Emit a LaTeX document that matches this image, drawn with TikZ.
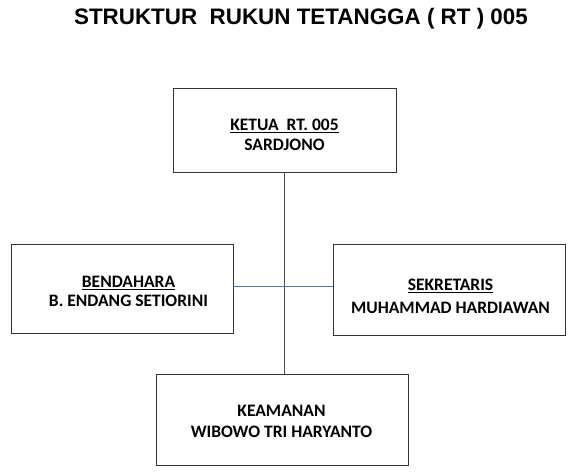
\documentclass[tikz,border=0pt]{standalone}
\usepackage{fontspec}
\setmainfont{Carlito}
\newfontfamily\titlefont{Liberation Sans}
\begin{document}
\begin{tikzpicture}[x=1pt,y=-1pt,
  box/.style={draw=black!80,line width=0.8pt,inner sep=0pt},
  lbl/.style={font=\bfseries\fontsize{17.5}{20}\selectfont,align=center,inner sep=0pt},
  conn/.style={line width=0.7pt}]
\useasboundingbox (0,0) rectangle (583,475);
\node[font=\titlefont\bfseries\fontsize{22.4}{26}\selectfont] (title) at (301,19) {STRUKTUR\ \ RUKUN TETANGGA ( RT ) 005};
\node[box,minimum width=223pt,minimum height=84pt] (ketua) at (284.5,130) {};
\node[lbl] (ketuat) at (284.5,135) {\underline{KETUA\ \ RT. 005}\\[0pt]SARDJONO};
\node[box,minimum width=222pt,minimum height=89pt] (bend) at (122,288.5) {};
\node[lbl] (bendt) at (128.5,291.5) {\underline{BENDAHARA}\\[-1pt]B. ENDANG SETIORINI};
\node[box,minimum width=232pt,minimum height=91pt] (sek) at (449,289.5) {};
\node[lbl] (sekt) at (450.5,296.5) {\underline{SEKRETARIS}\\[3pt]MUHAMMAD HARDIAWAN};
\node[box,minimum width=252pt,minimum height=91pt] (keam) at (282,419.5) {};
\node[lbl] (keamt) at (281.5,421.5) {KEAMANAN\\[1pt]WIBOWO TRI HARYANTO};
\draw[conn,draw=black!70] (ketua.south -| 284,0) -- (keam.north -| 284,0);
\draw[conn,draw={rgb,255:red,70;green,125;blue,160}] (bend.east |- 0,286) -- (sek.west |- 0,286);
\end{tikzpicture}
\end{document}
